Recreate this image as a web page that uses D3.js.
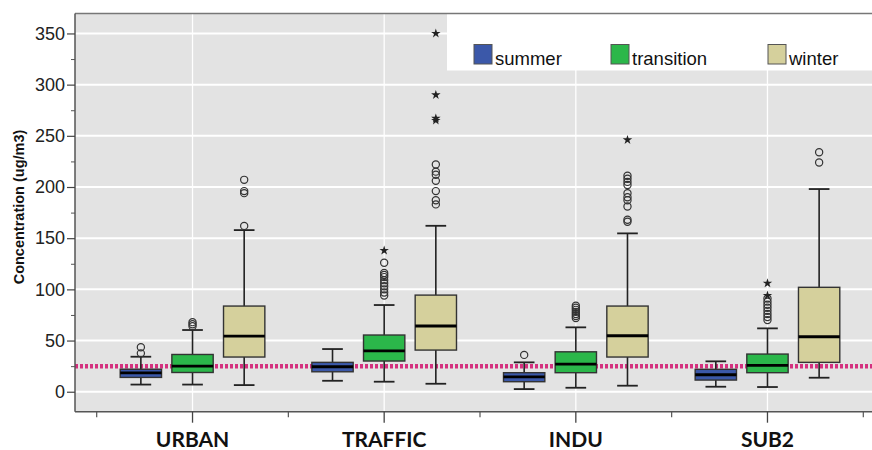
<!DOCTYPE html>
<html><head><meta charset="utf-8">
<script src="https://cdn.jsdelivr.net/npm/d3@7"></script>
<style>body{margin:0;background:#fff}svg{display:block}</style>
</head><body><svg id="c" width="872" height="450"></svg>
<script>
const groups = ["URBAN", "TRAFFIC", "INDU", "SUB2"];
const seasons = ["summer", "transition", "winter"];
const seasonColors = ["#3b58a9", "#2bb74a", "#d5d09c"];
const yTicks = [0, 50, 100, 150, 200, 250, 300, 350];
const yMinorTicks = [25, 75, 125, 175, 225, 275, 325];
const limitValue = 25;

// stats per season, one entry per group (URBAN, TRAFFIC, INDU, SUB2)
const summerLow = [7, 10.7, 2.6, 4.9];
const summerQ1 = [14, 19.5, 9.8, 11.4];
const summerMedian = [18.5, 24.4, 14.6, 16.6];
const summerQ3 = [22, 28.7, 18.6, 21.9];
const summerHigh = [34.2, 41.7, 28.7, 29.7];
const summerOutliers = [[37.5, 43.5], [], [36], []];
const summerExtremes = [[], [], [], []];

const transitionLow = [7, 9.8, 3.9, 4.6];
const transitionQ1 = [18.8, 30, 18.6, 18.6];
const transitionMedian = [25.1, 40, 27, 25.8];
const transitionQ3 = [36.4, 55.4, 39, 36.8];
const transitionHigh = [60.3, 84.7, 62.9, 61.9];
const transitionOutliers = [[64, 66, 68], [94, 97, 100, 103, 106, 109, 112, 114, 116, 126], [72, 74, 76, 78, 80, 82, 84], [70, 73, 76, 79, 82, 85, 88, 91]];
const transitionExtremes = [[], [138], [], [94, 106]];

const winterLow = [6.5, 7.8, 5.9, 13.7];
const winterQ1 = [33.9, 40.7, 33.9, 28.7];
const winterMedian = [54.4, 64.2, 54.7, 53.7];
const winterQ3 = [83.7, 94.4, 83.7, 102];
const winterHigh = [157.9, 162.1, 154.7, 198];
const winterOutliers = [[162, 194, 196, 207], [183, 187, 196, 206, 212, 215, 222], [166, 168, 181, 187, 190, 194, 202, 205, 208, 211], [224, 234]];
const winterExtremes = [[], [265, 267, 290, 350], [246], []];

const stats = {
  summer: {low: summerLow, q1: summerQ1, med: summerMedian, q3: summerQ3, high: summerHigh, out: summerOutliers, ext: summerExtremes},
  transition: {low: transitionLow, q1: transitionQ1, med: transitionMedian, q3: transitionQ3, high: transitionHigh, out: transitionOutliers, ext: transitionExtremes},
  winter: {low: winterLow, q1: winterQ1, med: winterMedian, q3: winterQ3, high: winterHigh, out: winterOutliers, ext: winterExtremes}
};

const svg = d3.select("#c");
const L = 75, T = 13.5, R = 895, B = 411.7;

const y = d3.scaleLinear().domain([-19.5, 369]).range([B, T + 0.5]);
const x0 = d3.scaleBand().domain(groups).range([96.7, 863.3]).padding(0);
const x1 = d3.scaleBand().domain(seasons).range([0, x0.bandwidth()]).paddingInner(0.2).paddingOuter(0.455);
const color = d3.scaleOrdinal().domain(seasons).range(seasonColors);

// background
svg.append("rect").attr("x", L).attr("y", T).attr("width", R - L).attr("height", B - T).attr("fill", "#e3e3e3");

// grid lines
svg.append("g").selectAll("line").data(yTicks).join("line")
  .attr("x1", L).attr("x2", R).attr("y1", d => y(d)).attr("y2", d => y(d))
  .attr("stroke", "#fff").attr("stroke-width", 2);
svg.append("g").selectAll("line").data(groups).join("line")
  .attr("x1", d => x0(d) + x0.bandwidth() / 2).attr("x2", d => x0(d) + x0.bandwidth() / 2)
  .attr("y1", T).attr("y2", B).attr("stroke", "#fff").attr("stroke-width", 1.3);

// legend box
const lg = svg.append("g");
lg.append("rect").attr("x", 447).attr("y", T + 0.5).attr("width", R - 447).attr("height", 70 - T).attr("fill", "#fff");
const legendX = [474, 611, 768];
seasons.forEach((s, i) => {
  lg.append("rect").attr("x", legendX[i]).attr("y", 44.5).attr("width", 18).attr("height", 19.5)
    .attr("fill", color(s)).attr("stroke", "#555").attr("stroke-width", 1);
  lg.append("text").attr("x", legendX[i] + 21).attr("y", 64.5).text(s)
    .attr("font-family", "Liberation Sans, Arial, sans-serif").attr("font-size", 18.5).attr("fill", "#111");
});

// reference dotted line
svg.append("line").attr("x1", L).attr("x2", R).attr("y1", y(limitValue)).attr("y2", y(limitValue))
  .attr("stroke", "#d4317f").attr("stroke-width", 4.5).attr("stroke-dasharray", "3,2");

// boxes
const boxW = x1.bandwidth();
groups.forEach((g, gi) => {
  seasons.forEach(s => {
    const st = stats[s];
    const cx = x0(g) + x1(s) + boxW / 2;
    const bg = svg.append("g");
    const cap = boxW / 4;
    bg.append("line").attr("x1", cx).attr("x2", cx).attr("y1", y(st.high[gi])).attr("y2", y(st.q3[gi]))
      .attr("stroke", "#222").attr("stroke-width", 1.6);
    bg.append("line").attr("x1", cx).attr("x2", cx).attr("y1", y(st.q1[gi])).attr("y2", y(st.low[gi]))
      .attr("stroke", "#222").attr("stroke-width", 1.6);
    [st.high[gi], st.low[gi]].forEach(v => {
      bg.append("line").attr("x1", cx - cap).attr("x2", cx + cap).attr("y1", y(v)).attr("y2", y(v))
        .attr("stroke", "#222").attr("stroke-width", 1.8);
    });
    bg.append("rect").attr("x", cx - boxW / 2).attr("width", boxW)
      .attr("y", y(st.q3[gi])).attr("height", y(st.q1[gi]) - y(st.q3[gi]))
      .attr("fill", color(s)).attr("stroke", "#333").attr("stroke-width", 1.4);
    bg.append("line").attr("x1", cx - boxW / 2).attr("x2", cx + boxW / 2)
      .attr("y1", y(st.med[gi])).attr("y2", y(st.med[gi])).attr("stroke", "#000").attr("stroke-width", 2.8);
    bg.selectAll("circle").data(st.out[gi]).join("circle")
      .attr("cx", cx).attr("cy", d => y(d)).attr("r", 3.6)
      .attr("fill", "none").attr("stroke", "#333").attr("stroke-width", 1.2);
    bg.selectAll("path.ext").data(st.ext[gi]).join("path").attr("class", "ext")
      .attr("transform", d => `translate(${cx},${y(d)})`)
      .attr("d", d3.symbol(d3.symbolStar).size(28)).attr("fill", "#222");
  });
});

// frame
svg.append("line").attr("x1", L).attr("x2", R).attr("y1", T).attr("y2", T).attr("stroke", "#777").attr("stroke-width", 1.5);
svg.append("line").attr("x1", L).attr("x2", L).attr("y1", T).attr("y2", B).attr("stroke", "#555").attr("stroke-width", 1.5);
svg.append("line").attr("x1", L).attr("x2", R).attr("y1", B).attr("y2", B).attr("stroke", "#555").attr("stroke-width", 1.5);

// y axis
const yAxis = svg.append("g").attr("transform", `translate(${L},0)`)
  .call(d3.axisLeft(y).tickValues(yTicks).tickSize(8).tickPadding(2).tickFormat(d3.format("d")));
yAxis.select(".domain").remove();
yAxis.selectAll(".tick line").attr("stroke", "#444").attr("stroke-width", 1.2);
yAxis.selectAll("text").attr("font-family", "Liberation Sans, Arial, sans-serif").attr("font-size", 18).attr("fill", "#222");
const yMinor = svg.append("g").attr("transform", `translate(${L},0)`)
  .call(d3.axisLeft(y).tickValues(yMinorTicks).tickSize(4).tickFormat(""));
yMinor.select(".domain").remove();
yMinor.selectAll(".tick line").attr("stroke", "#555").attr("stroke-width", 1);

// x axis
const xAxis = svg.append("g").attr("transform", `translate(0,${B})`)
  .call(d3.axisBottom(x0).tickSize(11).tickPadding(9));
xAxis.select(".domain").remove();
xAxis.selectAll(".tick line").attr("stroke", "#444").attr("stroke-width", 1.3);
xAxis.selectAll("text").attr("font-family", "Lato, Liberation Sans, sans-serif").attr("font-weight", "bold")
  .attr("font-size", 21).attr("fill", "#111");
const bounds = [...groups.map(g => x0(g)), x0.range()[1]];
svg.append("g").selectAll("line").data(bounds).join("line")
  .attr("x1", d => d).attr("x2", d => d).attr("y1", B).attr("y2", B + 5.5)
  .attr("stroke", "#555").attr("stroke-width", 1.2);

// y title
svg.append("text").attr("transform", "translate(24,207) rotate(-90)").attr("text-anchor", "middle")
  .attr("font-family", "Liberation Sans, Arial, sans-serif").attr("font-weight", "bold").attr("font-size", 14.5)
  .attr("fill", "#111").text("Concentration (ug/m3)");
</script></body></html>
